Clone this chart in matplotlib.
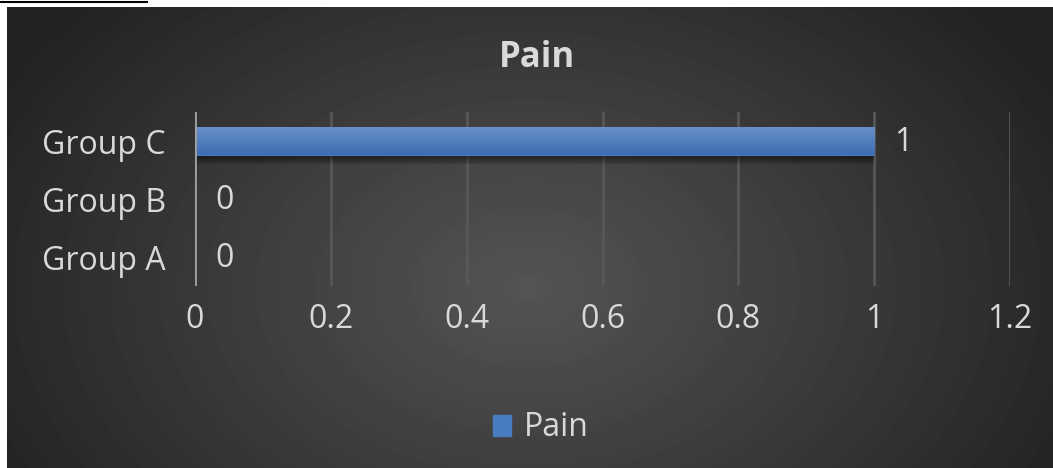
import numpy as np
import matplotlib.pyplot as plt
from matplotlib.patches import Rectangle
from matplotlib.colors import LinearSegmentedColormap

categories = ['Group A', 'Group B', 'Group C']
pain = [0, 0, 1]
xticks = [0, 0.2, 0.4, 0.6, 0.8, 1, 1.2]
xtick_labels = ['0', '0.2', '0.4', '0.6', '0.8', '1', '1.2']

plt.rcParams['font.family'] = ['Open Sans', 'DejaVu Sans']
txt = '#d9d9d9'
fs = 23

W, H = 1053, 468
fig = plt.figure(figsize=(W / 100, H / 100), dpi=100, facecolor='white')

# radial gradient background of the chart area
bg = fig.add_axes([7 / W, 0, (W - 7) / W, (H - 7) / H])
yy, xx = np.mgrid[0:461, 0:1046]
r = np.sqrt(((xx - 520) / 650.0) ** 2 + ((yy - 280) / 450.0) ** 2)
shade = np.clip(0.33 - 0.21 * r, 0.14, 0.33)
bg.imshow(shade, cmap='gray', vmin=0, vmax=1, aspect='auto', extent=[0, 1, 0, 1])
bg.set_axis_off()

# scrap of document text line above the chart
fig.add_artist(plt.Line2D([0, 147 / W], [1 - 2 / H, 1 - 2 / H], color='black', lw=1.5))

ax = fig.add_axes([195 / W, 1 - 286 / H, 815 / W, 174 / H])
ax.patch.set_alpha(0)
y = np.arange(len(categories))

for xt in xticks[1:]:
    ax.axvline(xt, color='#575757', lw=2, zorder=0)

# soft shadow under bars
for k in range(6):
    ax.barh(y - 0.03 - 0.025 * k, pain, height=0.5, color='black', alpha=0.09,
            zorder=1, lw=0)
bars = ax.barh(y, pain, height=0.5, color='#4a7cc0', zorder=2, lw=0)
grad = np.linspace(0, 1, 50).reshape(-1, 1)
cm = LinearSegmentedColormap.from_list('b', ['#3c6db3', '#6b90c9'])
for b in bars:
    if b.get_width() > 0:
        im = ax.imshow(grad, cmap=cm, aspect='auto', origin='lower', zorder=3,
                       extent=[b.get_x(), b.get_x() + b.get_width(),
                               b.get_y(), b.get_y() + b.get_height()])
        im.set_clip_path(b)

ax.axvline(0, color='#a0a0a0', lw=2, zorder=4)

for yi, v in zip(y, pain):
    ax.text(v + 0.03, yi - 0.03, str(v), color=txt, fontsize=fs, va='center', ha='left')

ax.set_xlim(0, 1.2)
ax.set_ylim(-0.5, 2.5)
ax.set_yticks(y)
ax.set_yticklabels(categories, color=txt, fontsize=fs)
ax.set_xticks(xticks)
ax.set_xticklabels(xtick_labels, color=txt, fontsize=fs)
ax.tick_params(length=0)
ax.tick_params(axis='y', pad=21)
ax.tick_params(axis='x', pad=12)
for s in ax.spines.values():
    s.set_visible(False)

fig.text(537 / W, 1 - 58 / H, 'Pain', color=txt, fontsize=25, fontweight='bold',
         ha='center', va='center')

fig.add_artist(Rectangle((493 / W, 1 - 436 / H), 18 / W, 21 / H,
                         transform=fig.transFigure, color='#4a7cc0'))
fig.text(524 / W, 1 - 427 / H, 'Pain', color=txt, fontsize=fs, ha='left', va='center')

fig.savefig('out.png', dpi=100)
